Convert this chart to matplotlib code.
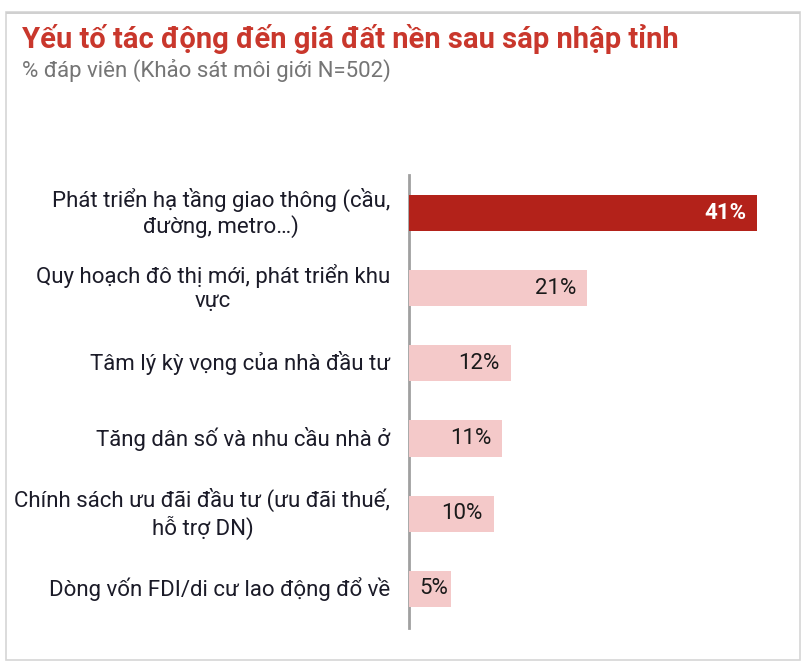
import matplotlib
matplotlib.use("Agg")
import matplotlib.pyplot as plt
from matplotlib.patches import Rectangle

plt.rcParams['font.family'] = ['Roboto', 'DejaVu Sans']

# Data
categories = [
    "Phát triển hạ tầng giao thông (cầu,\nđường, metro…)",
    "Quy hoạch đô thị mới, phát triển khu\nvực",
    "Tâm lý kỳ vọng của nhà đầu tư",
    "Tăng dân số và nhu cầu nhà ở",
    "Chính sách ưu đãi đầu tư (ưu đãi thuế,\nhỗ trợ DN)",
    "Dòng vốn FDI/di cư lao động đổ về",
]
values = [41, 21, 12, 11, 10, 5]
bar_colors = ["#B3221A", "#F4C9C9", "#F4C9C9", "#F4C9C9", "#F4C9C9", "#F4C9C9"]

fig = plt.figure(figsize=(8.08, 6.68), dpi=100)

# card frame
fig.patches.append(Rectangle((6 / 808, 1 - 660 / 668), 794 / 808, 648 / 668,
                             transform=fig.transFigure, fill=False,
                             edgecolor="#D6D6D6", linewidth=1.2))
fig.patches.append(Rectangle((6 / 808, 1 - 14 / 668), 794 / 808, 2 / 668,
                             transform=fig.transFigure, facecolor="#D0D0D0",
                             edgecolor="none"))

fig.text(22 / 808, 1 - 39 / 668, "Yếu tố tác động đến giá đất nền sau sáp nhập tỉnh",
         fontsize=21, fontweight="bold", color="#C9372C", va="center", ha="left")
fig.text(22 / 808, 1 - 70 / 668, "% đáp viên (Khảo sát môi giới N=502)",
         fontsize=16, color="#757575", va="center", ha="left")

ax = fig.add_axes([409 / 808, 1 - 628 / 668, 382 / 808, 453 / 668])
y = list(range(len(values)))
bars = ax.barh(y, values, height=0.48, color=bar_colors)
ax.set_xlim(0, 45)
ax.set_ylim(5.52, -0.505)

for i, v in enumerate(values):
    # short bars: keep the label tight to the end so it stays inside
    pad = 1.3 if v > 8 else 0.35
    if i == 0:
        ax.text(v - pad, i, f"{v}%", ha="right", va="center", color="white",
                fontsize=16, fontweight="bold")
    else:
        ax.text(v - pad, i, f"{v}%", ha="right", va="center", color="#1A1A1A",
                fontsize=16)
    ax.text(-2.2, i, categories[i], ha="right", va="center", multialignment="center",
            color="#1B1B28", fontsize=16, linespacing=1.2)

ax.set_xticks([])
ax.set_yticks([])
for s in ["top", "right", "bottom"]:
    ax.spines[s].set_visible(False)
ax.spines["left"].set_color("#A0A0A0")
ax.spines["left"].set_linewidth(2)
ax.spines["left"].set_zorder(0)

fig.savefig("out.png", dpi=100)
